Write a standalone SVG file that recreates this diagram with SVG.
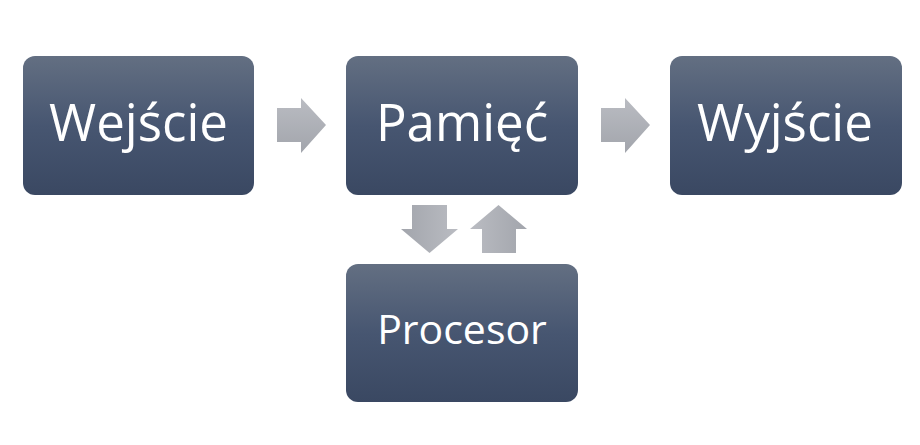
<svg xmlns="http://www.w3.org/2000/svg" width="920" height="445" viewBox="0 0 920 445">
<defs>
<linearGradient id="box" x1="0" y1="0" x2="0" y2="1">
<stop offset="0" stop-color="#636f82"/>
<stop offset="0.5" stop-color="#475671"/>
<stop offset="1" stop-color="#3a4862"/>
</linearGradient>
<linearGradient id="arrH" x1="0" y1="0" x2="0" y2="1">
<stop offset="0" stop-color="#babcc2"/>
<stop offset="1" stop-color="#a2a5ac"/>
</linearGradient>
<linearGradient id="arrDown" x1="1" y1="0" x2="0" y2="0">
<stop offset="0" stop-color="#babcc2"/>
<stop offset="1" stop-color="#a2a5ac"/>
</linearGradient>
<linearGradient id="arrUp" x1="0" y1="0" x2="1" y2="0">
<stop offset="0" stop-color="#babcc2"/>
<stop offset="1" stop-color="#a2a5ac"/>
</linearGradient>
</defs>
<style>
.box{fill:url(#box);}
.lbl{font-family:"Open Sans","Noto Sans","Liberation Sans",sans-serif;fill:#ffffff;text-anchor:middle;}
.big{font-size:51px;}
.small{font-size:41px;}
</style>
<rect width="920" height="445" fill="#ffffff"/>
<g id="connectors">
<polygon points="277,108 301,108 301,98 326,125 301,153 301,142 277,142" fill="url(#arrH)"/>
<polygon points="601,108 625,108 625,98 650,125 625,153 625,142 601,142" fill="url(#arrH)"/>
<polygon points="412,205 447,205 447,229 458,229 429.5,253 401,229 412,229" fill="url(#arrDown)"/>
<polygon points="482,253 516,253 516,229 527,229 498.5,205 470,229 482,229" fill="url(#arrUp)"/>
</g>
<g id="node-wejscie">
<rect class="box" x="23" y="56" width="231" height="139" rx="12" ry="12"/>
<text class="lbl big" x="138.5" y="141">Wejście</text>
</g>
<g id="node-pamiec">
<rect class="box" x="346" y="56" width="232" height="139" rx="12" ry="12"/>
<text class="lbl big" x="462" y="141">Pamięć</text>
</g>
<g id="node-wyjscie">
<rect class="box" x="670" y="56" width="232" height="139" rx="12" ry="12"/>
<text class="lbl big" x="785" y="141">Wyjście</text>
</g>
<g id="node-procesor">
<rect class="box" x="346" y="264" width="232" height="138" rx="12" ry="12"/>
<text class="lbl small" x="462" y="344">Procesor</text>
</g>
</svg>
